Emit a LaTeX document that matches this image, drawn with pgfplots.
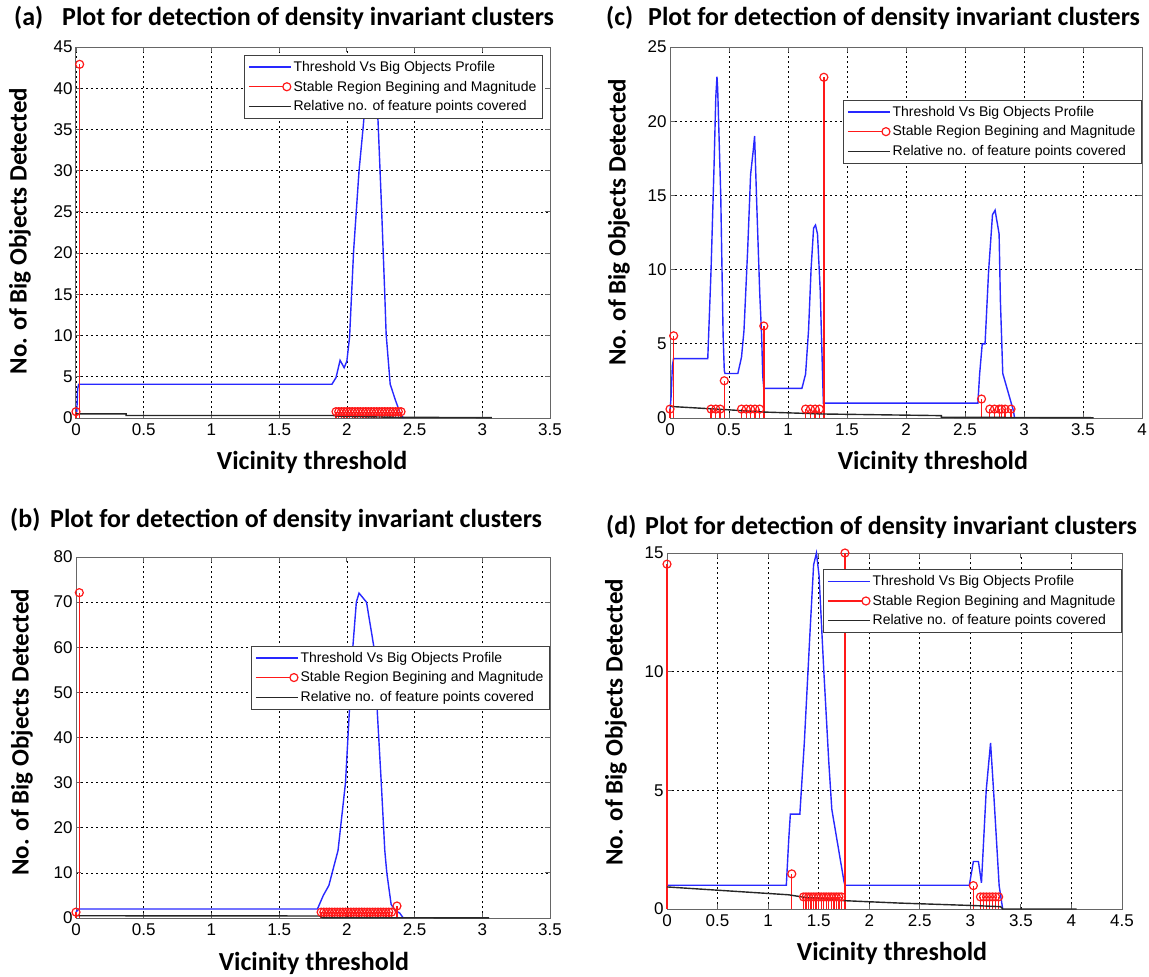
\documentclass[border=0pt]{standalone}
\usepackage{fontspec}
\setmainfont{Liberation Sans}
\newfontfamily\carlito{Carlito}
\usepackage{pgfplots}
\pgfplotsset{compat=1.18}

\definecolor{mblue}{RGB}{40,40,255}
\definecolor{mred}{RGB}{255,25,25}
\newcommand\titlef{\carlito\bfseries\fontsize{26}{26}\selectfont}

\pgfplotsset{
  matfig/.style={
    scale only axis,
    anchor=south west,
    clip=false,
    axis line style={draw=black!60, line width=1pt},
    tick align=inside,
    major tick length=5pt,
    tick style={black!60, line width=0.8pt},
    grid=major,
    major grid style={black, line width=0.7pt, dash pattern=on 2pt off 3pt},
    ticklabel style={font=\fontsize{17}{17}\selectfont},
    xticklabel style={yshift=-2pt},
    /pgf/number format/assume math mode=true,
    xlabel style={font=\titlef},
    ylabel style={font=\carlito\bfseries\fontsize{25}{25}\selectfont},
    legend style={font=\fontsize{14}{16}\selectfont, draw=black!75, line width=1pt,
      fill=white, anchor=north east, inner xsep=4pt, inner ysep=4pt, row sep=4pt},
    legend cell align=left,
  },
  blueline/.style={color=mblue, line width=1.4pt,
    legend image code/.code={\draw[mblue,line width=1.4pt] (0pt,0pt) -- (42pt,0pt);}},
  blackline/.style={color=black!85, line width=1.4pt,
    legend image code/.code={\draw[black!85,line width=1.4pt] (0pt,0pt) -- (42pt,0pt);}},
  stems/.style={color=mred, line width=1.4pt, ycomb,
    mark=o, mark size=4pt, mark options={solid, mred, line width=1.2pt},
    legend image code/.code={
      \draw[mred,line width=1.4pt] (0pt,0pt) -- (34pt,0pt);
      \draw[mred,line width=1.2pt,fill=white] (38pt,0pt) circle (4pt);}},
}

\begin{document}
\begin{tikzpicture}
\path[use as bounding box] (0pt,0pt) rectangle (1149pt,-977pt);

% (a)
\begin{axis}[matfig, at={(76pt,-418pt)}, width=474pt, height=371pt,
  xmin=0, xmax=3.5, ymin=0, ymax=45,
  xtick={0,0.5,1,1.5,2,2.5,3,3.5}, ytick={0,5,10,15,20,25,30,35,40,45},
  xlabel={Vicinity threshold}, ylabel={No. of Big Objects Detected},
  xlabel style={at={(axis description cs:0.498,-0.1186)}, anchor=center},
  ylabel style={at={(axis description cs:-0.118,0.504)}, anchor=center},
  legend style={at={(0.985,0.979)}}]
\addplot[blueline] coordinates {
  (0,0.5) (0.006,0.8) (0.012,3.5) (0.02,4.1) (0.03,4.1) (1.89,4.1) (1.92,4.9)
  (1.95,7.0) (1.98,6.1) (2.0,6.9) (2.02,9.8) (2.05,20.3) (2.09,30) (2.12,35.2)
  (2.15,41) (2.17,43) (2.2,41) (2.23,36.1) (2.255,26) (2.28,15) (2.29,10.2)
  (2.32,4.1) (2.36,2.1) (2.4,0.3) (2.42,0)};
\addlegendentry{Threshold Vs Big Objects Profile}
\addplot[stems] coordinates {
  (0,0.77) (0.027,42.9)
  (1.92,0.77) (1.94,0.77) (1.96,0.77) (1.98,0.77) (2.00,0.77) (2.02,0.77) (2.04,0.77)
  (2.06,0.77) (2.08,0.77) (2.10,0.77) (2.12,0.77) (2.14,0.77) (2.16,0.77) (2.18,0.77)
  (2.20,0.77) (2.22,0.77) (2.24,0.77) (2.26,0.77) (2.28,0.77) (2.30,0.77) (2.32,0.77)
  (2.34,0.77) (2.36,0.77) (2.38,0.77) (2.40,0.77)};
\addlegendentry{Stable Region Begining and Magnitude}
\addplot[blackline] coordinates {
  (0,0.5) (0.37,0.5) (0.37,0.3) (1.9,0.3) (1.95,0.2) (2.4,0.08) (3.07,0.05)};
\addlegendentry{Relative no. of feature points covered}
\end{axis}

% (c)
\begin{axis}[matfig, at={(670pt,-418pt)}, width=472pt, height=371pt,
  xmin=0, xmax=4, ymin=0, ymax=25,
  xtick={0,0.5,1,1.5,2,2.5,3,3.5,4}, ytick={0,5,10,15,20,25},
  xlabel={Vicinity threshold}, ylabel={No. of Big Objects Detected},
  xlabel style={at={(axis description cs:0.557,-0.1186)}, anchor=center},
  ylabel style={at={(axis description cs:-0.108,0.528)}, anchor=center},
  legend style={at={(1,0.858)}}]
\addplot[blueline] coordinates {
  (0,0.5) (0.01,1.5) (0.02,3.5) (0.03,4) (0.32,4) (0.348,10) (0.373,16.9) (0.388,21.6)
  (0.398,23) (0.404,22.2) (0.43,15) (0.45,5.6) (0.46,3.2) (0.466,3) (0.575,3)
  (0.606,4.1) (0.627,5.9) (0.658,11.3) (0.683,16.4) (0.705,18) (0.717,19) (0.736,14.2)
  (0.761,8.3) (0.776,5.65) (0.786,2.85) (0.795,2.0) (1.118,2) (1.149,2.96) (1.174,5.9)
  (1.196,10.1) (1.217,12.8) (1.233,13) (1.25,12.4) (1.273,8.6) (1.295,2.3) (1.30,1)
  (2.609,1) (2.624,2.96) (2.646,5) (2.67,5) (2.70,9.9) (2.733,13.7) (2.755,14)
  (2.789,12.4) (2.80,7.9) (2.82,3) (2.91,0.5) (2.92,0)};
\addlegendentry{Threshold Vs Big Objects Profile}
\addplot[stems] coordinates {
  (0,0.6) (0.031,5.54) (0.348,0.6) (0.388,0.6) (0.425,0.6) (0.46,2.51)
  (0.606,0.6) (0.646,0.6) (0.683,0.6) (0.72,0.6) (0.76,0.6) (0.795,6.2)
  (1.149,0.6) (1.19,0.6) (1.23,0.6) (1.267,0.6) (1.304,22.96)
  (2.64,1.28) (2.71,0.6) (2.75,0.6) (2.79,0.6) (2.81,0.6) (2.84,0.6) (2.89,0.6)};
\addlegendentry{Stable Region Begining and Magnitude}
\addplot[blackline] coordinates {
  (0,0.78) (0.5,0.55) (0.8,0.4) (1.3,0.27) (2.3,0.16) (2.3,0.05) (3.59,0.02)};
\addlegendentry{Relative no. of feature points covered}
\end{axis}

% (b)
\begin{axis}[matfig, at={(76pt,-918pt)}, width=474pt, height=361pt,
  xmin=0, xmax=3.5, ymin=0, ymax=80,
  xtick={0,0.5,1,1.5,2,2.5,3,3.5}, ytick={0,10,20,30,40,50,60,70,80},
  xlabel={Vicinity threshold}, ylabel={No. of Big Objects Detected},
  xlabel style={at={(axis description cs:0.502,-0.1247)}, anchor=center},
  ylabel style={at={(axis description cs:-0.114,0.515)}, anchor=center},
  legend style={at={(1,0.7546)}}]
\addplot[blueline] coordinates {
  (0,1.3) (0.02,2) (1.783,2) (1.826,5) (1.867,7.2) (1.935,15) (1.99,30) (2.017,45)
  (2.044,60) (2.07,70) (2.09,72) (2.145,70) (2.2,60) (2.226,45) (2.254,30)
  (2.28,15) (2.295,10) (2.327,3) (2.36,1.6) (2.39,1.1) (2.417,0)};
\addlegendentry{Threshold Vs Big Objects Profile}
\addplot[stems] coordinates {
  (0,1.3) (0.0245,72.1)
  (1.81,1.3) (1.83,1.3) (1.85,1.3) (1.87,1.3) (1.89,1.3) (1.91,1.3) (1.93,1.3)
  (1.95,1.3) (1.97,1.3) (1.99,1.3) (2.01,1.3) (2.03,1.3) (2.05,1.3) (2.07,1.3)
  (2.09,1.3) (2.11,1.3) (2.13,1.3) (2.15,1.3) (2.17,1.3) (2.19,1.3) (2.21,1.3)
  (2.23,1.3) (2.25,1.3) (2.27,1.3) (2.29,1.3) (2.31,1.3) (2.33,1.3) (2.37,2.66)};
\addlegendentry{Stable Region Begining and Magnitude}
\addplot[blackline] coordinates {
  (0,0.5) (1.8,0.45) (1.82,0.1) (3.05,0.02)};
\addlegendentry{Relative no. of feature points covered}
\end{axis}

% (d)
\begin{axis}[matfig, at={(667pt,-909pt)}, width=455pt, height=356pt,
  xmin=0, xmax=4.5, ymin=0, ymax=15,
  xtick={0,0.5,1,1.5,2,2.5,3,3.5,4,4.5}, ytick={0,5,10,15},
  xlabel={Vicinity threshold}, ylabel={No. of Big Objects Detected},
  xlabel style={at={(axis description cs:0.4945,-0.1236)}, anchor=center},
  ylabel style={at={(axis description cs:-0.112,0.525)}, anchor=center},
  legend style={at={(1,0.955)}}]
\addplot[blueline] coordinates {
  (0,1) (1.18,1) (1.204,2.93) (1.22,4) (1.314,4) (1.358,7) (1.416,11.8) (1.45,14.5)
  (1.478,15) (1.504,14.04) (1.55,10.1) (1.6,6.2) (1.63,4.2) (1.75,1.17) (1.76,1)
  (2.99,1) (3.03,2) (3.08,2) (3.11,1.1) (3.157,5) (3.2,7) (3.23,4.97) (3.285,0.98)
  (3.32,0)};
\addlegendentry{Threshold Vs Big Objects Profile}
\addplot[stems] coordinates {
  (0,14.53) (1.234,1.48)
  (1.35,0.51) (1.375,0.51) (1.40,0.51) (1.425,0.51) (1.45,0.51) (1.475,0.51)
  (1.50,0.51) (1.525,0.51) (1.55,0.51) (1.575,0.51) (1.60,0.51) (1.625,0.51)
  (1.65,0.51) (1.675,0.51) (1.70,0.51) (1.725,0.51) (1.76,15.0)
  (3.03,0.985) (3.10,0.51) (3.13,0.51) (3.16,0.51) (3.19,0.51) (3.22,0.51)
  (3.25,0.51) (3.28,0.51)};
\addlegendentry{Stable Region Begining and Magnitude}
\addplot[blackline] coordinates {
  (0,0.93) (1.2,0.6) (1.35,0.5) (1.76,0.35) (2.3,0.25) (3.0,0.15) (3.3,0.1)
  (3.32,0) (4.05,0)};
\addlegendentry{Relative no. of feature points covered}
\end{axis}

\node[anchor=west, font=\titlef, inner xsep=0pt] at (14pt,-18pt) {(a)};
\node[anchor=west, font=\titlef, inner xsep=0pt] at (62pt,-18pt) {Plot for detection of density invariant clusters};
\node[anchor=west, font=\titlef, inner xsep=0pt] at (606pt,-18pt) {(c)};
\node[anchor=west, font=\titlef, inner xsep=0pt] at (648pt,-18pt) {Plot for detection of density invariant clusters};
\node[anchor=west, font=\titlef, inner xsep=0pt] at (10pt,-520pt) {(b)};
\node[anchor=west, font=\titlef, inner xsep=0pt] at (50pt,-520pt) {Plot for detection of density invariant clusters};
\node[anchor=west, font=\titlef, inner xsep=0pt] at (606pt,-527pt) {(d)};
\node[anchor=west, font=\titlef, inner xsep=0pt] at (645pt,-527pt) {Plot for detection of density invariant clusters};
\end{tikzpicture}
\end{document}
